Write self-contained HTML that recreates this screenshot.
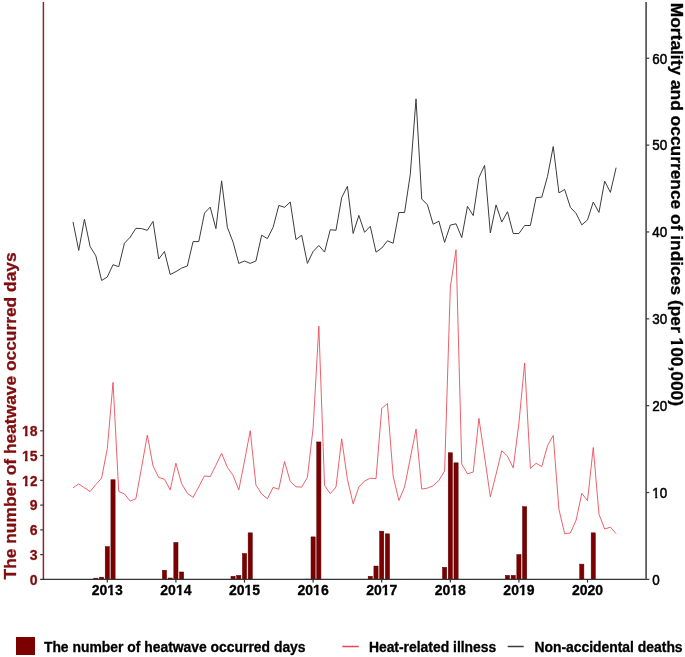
<!DOCTYPE html>
<html><head><meta charset="utf-8"><style>
html,body{margin:0;padding:0;background:#fff;width:685px;height:657px;overflow:hidden}
#w{will-change:transform}
svg text{font-family:"Liberation Sans", sans-serif;stroke-width:0.3;paint-order:stroke}
</style></head><body>
<div id="w"><svg width="685" height="657" viewBox="0 0 685 657" style="display:block">
<rect width="685" height="657" fill="#fff"/>
<rect x="93.77" y="578.16" width="4.20" height="1.24" fill="#7c0000" stroke="#5c0000" stroke-width="0.5"/>
<rect x="99.48" y="577.17" width="4.20" height="2.23" fill="#7c0000" stroke="#5c0000" stroke-width="0.5"/>
<rect x="105.20" y="546.63" width="4.20" height="32.77" fill="#7c0000" stroke="#5c0000" stroke-width="0.5"/>
<rect x="110.92" y="479.75" width="4.20" height="99.65" fill="#7c0000" stroke="#5c0000" stroke-width="0.5"/>
<rect x="162.37" y="570.24" width="4.20" height="9.16" fill="#7c0000" stroke="#5c0000" stroke-width="0.5"/>
<rect x="168.09" y="578.00" width="4.20" height="1.40" fill="#7c0000" stroke="#5c0000" stroke-width="0.5"/>
<rect x="173.81" y="542.50" width="4.20" height="36.90" fill="#7c0000" stroke="#5c0000" stroke-width="0.5"/>
<rect x="179.52" y="571.97" width="4.20" height="7.43" fill="#7c0000" stroke="#5c0000" stroke-width="0.5"/>
<rect x="230.98" y="576.27" width="4.20" height="3.13" fill="#7c0000" stroke="#5c0000" stroke-width="0.5"/>
<rect x="236.69" y="575.36" width="4.20" height="4.04" fill="#7c0000" stroke="#5c0000" stroke-width="0.5"/>
<rect x="242.41" y="553.56" width="4.20" height="25.84" fill="#7c0000" stroke="#5c0000" stroke-width="0.5"/>
<rect x="248.13" y="532.84" width="4.20" height="46.56" fill="#7c0000" stroke="#5c0000" stroke-width="0.5"/>
<rect x="305.30" y="579.15" width="4.20" height="0.25" fill="#7c0000" stroke="#5c0000" stroke-width="0.5"/>
<rect x="311.01" y="536.88" width="4.20" height="42.52" fill="#7c0000" stroke="#5c0000" stroke-width="0.5"/>
<rect x="316.73" y="441.94" width="4.20" height="137.46" fill="#7c0000" stroke="#5c0000" stroke-width="0.5"/>
<rect x="368.18" y="576.27" width="4.20" height="3.13" fill="#7c0000" stroke="#5c0000" stroke-width="0.5"/>
<rect x="373.90" y="566.03" width="4.20" height="13.37" fill="#7c0000" stroke="#5c0000" stroke-width="0.5"/>
<rect x="379.62" y="531.19" width="4.20" height="48.21" fill="#7c0000" stroke="#5c0000" stroke-width="0.5"/>
<rect x="385.33" y="533.83" width="4.20" height="45.57" fill="#7c0000" stroke="#5c0000" stroke-width="0.5"/>
<rect x="442.50" y="567.27" width="4.20" height="12.13" fill="#7c0000" stroke="#5c0000" stroke-width="0.5"/>
<rect x="448.22" y="452.76" width="4.20" height="126.64" fill="#7c0000" stroke="#5c0000" stroke-width="0.5"/>
<rect x="453.94" y="462.83" width="4.20" height="116.57" fill="#7c0000" stroke="#5c0000" stroke-width="0.5"/>
<rect x="505.39" y="575.36" width="4.20" height="4.04" fill="#7c0000" stroke="#5c0000" stroke-width="0.5"/>
<rect x="511.11" y="575.36" width="4.20" height="4.04" fill="#7c0000" stroke="#5c0000" stroke-width="0.5"/>
<rect x="516.83" y="554.55" width="4.20" height="24.85" fill="#7c0000" stroke="#5c0000" stroke-width="0.5"/>
<rect x="522.54" y="506.67" width="4.20" height="72.73" fill="#7c0000" stroke="#5c0000" stroke-width="0.5"/>
<rect x="579.71" y="564.13" width="4.20" height="15.27" fill="#7c0000" stroke="#5c0000" stroke-width="0.5"/>
<rect x="591.15" y="532.84" width="4.20" height="46.56" fill="#7c0000" stroke="#5c0000" stroke-width="0.5"/>
<polyline points="73.00,487.80 78.72,483.90 84.43,487.80 90.15,491.50 95.87,484.50 101.58,478.10 107.30,448.70 113.02,382.40 118.74,491.50 124.45,493.90 130.17,501.10 135.89,498.70 141.60,467.30 147.32,435.10 153.04,465.90 158.75,477.50 164.47,479.20 170.19,489.90 175.91,463.20 181.62,483.70 187.34,493.30 193.06,497.40 198.77,486.70 204.49,475.90 210.21,476.70 215.92,465.20 221.64,453.30 227.36,467.30 233.08,475.50 238.79,489.90 244.51,461.10 250.23,430.70 255.94,485.10 261.66,494.00 267.38,498.80 273.10,487.40 278.81,489.20 284.53,461.50 290.25,481.40 295.96,486.80 301.68,487.10 307.40,477.30 313.11,428.00 318.83,326.20 324.55,485.50 330.26,493.60 335.98,487.00 341.70,438.80 347.42,479.30 353.13,503.80 358.85,487.00 364.57,481.00 370.28,478.20 376.00,478.70 381.72,408.40 387.44,403.50 393.15,476.10 398.87,500.50 404.59,487.00 410.30,458.10 416.02,429.10 421.74,489.10 427.45,488.10 433.17,485.70 438.89,480.50 444.60,471.00 450.32,287.20 456.04,249.70 461.76,464.10 467.47,473.80 473.19,472.10 478.91,418.30 484.62,457.00 490.34,496.80 496.06,474.30 501.77,450.70 507.49,456.20 513.21,467.90 518.93,423.00 524.64,363.00 530.36,468.40 536.08,463.30 541.79,466.60 547.51,445.60 553.23,435.50 558.94,509.50 564.66,533.70 570.38,533.00 576.10,520.20 581.81,493.40 587.53,500.60 593.25,447.50 598.96,514.10 604.68,529.00 610.40,527.20 616.12,533.70" fill="none" stroke="#ea4450" stroke-width="0.85" stroke-linejoin="round"/>
<polyline points="73.00,221.90 78.72,250.40 84.43,219.20 90.15,246.60 95.87,255.90 101.58,280.50 107.30,277.00 113.02,264.70 118.74,266.70 124.45,243.20 130.17,237.20 135.89,228.30 141.60,228.60 147.32,230.30 153.04,221.40 158.75,259.00 164.47,251.50 170.19,274.50 175.91,271.60 181.62,268.10 187.34,266.00 193.06,241.60 198.77,241.60 204.49,213.10 210.21,207.10 215.92,228.70 221.64,180.80 227.36,227.30 233.08,242.20 238.79,263.40 244.51,261.00 250.23,263.40 255.94,261.00 261.66,235.20 267.38,238.60 273.10,227.30 278.81,205.50 284.53,207.30 290.25,202.00 295.96,239.60 301.68,235.20 307.40,263.40 313.11,251.50 318.83,245.50 324.55,252.10 330.26,229.70 335.98,230.30 341.70,197.60 347.42,186.30 353.13,233.50 358.85,215.40 364.57,232.30 370.28,226.30 376.00,252.10 381.72,248.10 387.44,240.80 393.15,243.20 398.87,212.50 404.59,212.50 410.30,174.20 416.02,98.90 421.74,199.00 427.45,204.80 433.17,224.20 438.89,221.20 444.60,242.40 450.32,225.10 456.04,223.80 461.76,237.60 467.47,206.30 473.19,215.60 478.91,177.60 484.62,165.30 490.34,233.00 496.06,204.90 501.77,222.00 507.49,211.70 513.21,233.50 518.93,233.50 524.64,225.50 530.36,225.50 536.08,197.60 541.79,197.20 547.51,176.40 553.23,146.50 558.94,192.90 564.66,189.50 570.38,207.30 576.10,213.40 581.81,224.90 587.53,219.90 593.25,202.00 598.96,212.40 604.68,181.10 610.40,192.40 616.12,167.70" fill="none" stroke="#3c3c3c" stroke-width="1.0" stroke-linejoin="round"/>
<line x1="43.4" y1="2" x2="43.4" y2="579.4" stroke="#8f252c" stroke-width="1.5"/>
<line x1="40.2" y1="579.4" x2="646.1" y2="579.4" stroke="#333" stroke-width="1.3"/>
<line x1="646.1" y1="2" x2="646.1" y2="580.05" stroke="#4a4a4a" stroke-width="1.6"/>
<line x1="40.2" y1="554.63" x2="43.4" y2="554.63" stroke="#3a3a3a" stroke-width="1.2"/>
<line x1="40.2" y1="529.86" x2="43.4" y2="529.86" stroke="#3a3a3a" stroke-width="1.2"/>
<line x1="40.2" y1="505.10" x2="43.4" y2="505.10" stroke="#3a3a3a" stroke-width="1.2"/>
<line x1="40.2" y1="480.33" x2="43.4" y2="480.33" stroke="#3a3a3a" stroke-width="1.2"/>
<line x1="40.2" y1="455.56" x2="43.4" y2="455.56" stroke="#3a3a3a" stroke-width="1.2"/>
<line x1="40.2" y1="430.79" x2="43.4" y2="430.79" stroke="#3a3a3a" stroke-width="1.2"/>
<line x1="646.1" y1="579.40" x2="649.3" y2="579.40" stroke="#3a3a3a" stroke-width="1.2"/>
<line x1="646.1" y1="492.54" x2="649.3" y2="492.54" stroke="#3a3a3a" stroke-width="1.2"/>
<line x1="646.1" y1="405.68" x2="649.3" y2="405.68" stroke="#3a3a3a" stroke-width="1.2"/>
<line x1="646.1" y1="318.82" x2="649.3" y2="318.82" stroke="#3a3a3a" stroke-width="1.2"/>
<line x1="646.1" y1="231.96" x2="649.3" y2="231.96" stroke="#3a3a3a" stroke-width="1.2"/>
<line x1="646.1" y1="145.10" x2="649.3" y2="145.10" stroke="#3a3a3a" stroke-width="1.2"/>
<line x1="646.1" y1="58.24" x2="649.3" y2="58.24" stroke="#3a3a3a" stroke-width="1.2"/>
<line x1="107.30" y1="579.4" x2="107.30" y2="582.6" stroke="#333" stroke-width="1.2"/>
<line x1="175.91" y1="579.4" x2="175.91" y2="582.6" stroke="#333" stroke-width="1.2"/>
<line x1="244.51" y1="579.4" x2="244.51" y2="582.6" stroke="#333" stroke-width="1.2"/>
<line x1="313.11" y1="579.4" x2="313.11" y2="582.6" stroke="#333" stroke-width="1.2"/>
<line x1="381.72" y1="579.4" x2="381.72" y2="582.6" stroke="#333" stroke-width="1.2"/>
<line x1="450.32" y1="579.4" x2="450.32" y2="582.6" stroke="#333" stroke-width="1.2"/>
<line x1="518.93" y1="579.4" x2="518.93" y2="582.6" stroke="#333" stroke-width="1.2"/>
<line x1="587.53" y1="579.4" x2="587.53" y2="582.6" stroke="#333" stroke-width="1.2"/>
<rect x="16" y="637" width="19" height="18" fill="#7c0000"/>
<line x1="342.3" y1="646.5" x2="358.7" y2="646.5" stroke="#ea4450" stroke-width="1.5"/>
<line x1="507.7" y1="646.5" x2="523.7" y2="646.5" stroke="#3c3c3c" stroke-width="1.5"/>
<text id="t0" x="37.60" y="584.70" text-anchor="end" font-weight="bold" font-size="14" fill="#800d0d" stroke="#800d0d">0</text>
<text id="t1" x="37.60" y="559.93" text-anchor="end" font-weight="bold" font-size="14" fill="#800d0d" stroke="#800d0d">3</text>
<text id="t2" x="37.60" y="535.16" text-anchor="end" font-weight="bold" font-size="14" fill="#800d0d" stroke="#800d0d">6</text>
<text id="t3" x="37.60" y="510.40" text-anchor="end" font-weight="bold" font-size="14" fill="#800d0d" stroke="#800d0d">9</text>
<text id="t4" x="37.60" y="485.63" text-anchor="end" font-weight="bold" font-size="14" fill="#800d0d" stroke="#800d0d">12</text><rect x="21.90" y="483.25" width="2.99" height="3.98" fill="#fff"/><rect x="27.61" y="483.25" width="2.81" height="3.98" fill="#fff"/>
<text id="t5" x="37.60" y="460.86" text-anchor="end" font-weight="bold" font-size="14" fill="#800d0d" stroke="#800d0d">15</text><rect x="21.90" y="458.48" width="2.99" height="3.98" fill="#fff"/><rect x="27.61" y="458.48" width="2.81" height="3.98" fill="#fff"/>
<text id="t6" x="37.60" y="436.09" text-anchor="end" font-weight="bold" font-size="14" fill="#800d0d" stroke="#800d0d">18</text><rect x="21.90" y="433.71" width="2.99" height="3.98" fill="#fff"/><rect x="27.61" y="433.71" width="2.81" height="3.98" fill="#fff"/>
<g transform="translate(652.3,584.70) scale(0.96,1.05)"><text id="t7" x="0.00" y="0.00" style="stroke-width:0.5" font-size="14" fill="#000" stroke="#000">0</text></g>
<g transform="translate(652.3,497.84) scale(0.96,1.05)"><text id="t8" x="0.00" y="0.00" style="stroke-width:0.5" font-size="14" fill="#000" stroke="#000">10</text><rect x="0.07" y="-2.00" width="2.95" height="3.60" fill="#fff"/><rect x="5.26" y="-2.00" width="2.84" height="3.60" fill="#fff"/></g>
<g transform="translate(652.3,410.98) scale(0.96,1.05)"><text id="t9" x="0.00" y="0.00" style="stroke-width:0.5" font-size="14" fill="#000" stroke="#000">20</text></g>
<g transform="translate(652.3,324.12) scale(0.96,1.05)"><text id="t10" x="0.00" y="0.00" style="stroke-width:0.5" font-size="14" fill="#000" stroke="#000">30</text></g>
<g transform="translate(652.3,237.26) scale(0.96,1.05)"><text id="t11" x="0.00" y="0.00" style="stroke-width:0.5" font-size="14" fill="#000" stroke="#000">40</text></g>
<g transform="translate(652.3,150.40) scale(0.96,1.05)"><text id="t12" x="0.00" y="0.00" style="stroke-width:0.5" font-size="14" fill="#000" stroke="#000">50</text></g>
<g transform="translate(652.3,63.54) scale(0.96,1.05)"><text id="t13" x="0.00" y="0.00" style="stroke-width:0.5" font-size="14" fill="#000" stroke="#000">60</text></g>
<text id="t14" x="107.30" y="595.20" text-anchor="middle" font-weight="bold" font-size="14" fill="#000" stroke="#000">2013</text><rect x="107.17" y="592.82" width="2.99" height="3.98" fill="#fff"/><rect x="112.87" y="592.82" width="2.81" height="3.98" fill="#fff"/>
<text id="t15" x="175.91" y="595.20" text-anchor="middle" font-weight="bold" font-size="14" fill="#000" stroke="#000">2014</text><rect x="175.78" y="592.82" width="2.99" height="3.98" fill="#fff"/><rect x="181.48" y="592.82" width="2.81" height="3.98" fill="#fff"/>
<text id="t16" x="244.51" y="595.20" text-anchor="middle" font-weight="bold" font-size="14" fill="#000" stroke="#000">2015</text><rect x="244.38" y="592.82" width="2.99" height="3.98" fill="#fff"/><rect x="250.08" y="592.82" width="2.81" height="3.98" fill="#fff"/>
<text id="t17" x="313.11" y="595.20" text-anchor="middle" font-weight="bold" font-size="14" fill="#000" stroke="#000">2016</text><rect x="312.98" y="592.82" width="2.99" height="3.98" fill="#fff"/><rect x="318.68" y="592.82" width="2.81" height="3.98" fill="#fff"/>
<text id="t18" x="381.72" y="595.20" text-anchor="middle" font-weight="bold" font-size="14" fill="#000" stroke="#000">2017</text><rect x="381.59" y="592.82" width="2.99" height="3.98" fill="#fff"/><rect x="387.29" y="592.82" width="2.81" height="3.98" fill="#fff"/>
<text id="t19" x="450.32" y="595.20" text-anchor="middle" font-weight="bold" font-size="14" fill="#000" stroke="#000">2018</text><rect x="450.19" y="592.82" width="2.99" height="3.98" fill="#fff"/><rect x="455.89" y="592.82" width="2.81" height="3.98" fill="#fff"/>
<text id="t20" x="518.93" y="595.20" text-anchor="middle" font-weight="bold" font-size="14" fill="#000" stroke="#000">2019</text><rect x="518.80" y="592.82" width="2.99" height="3.98" fill="#fff"/><rect x="524.50" y="592.82" width="2.81" height="3.98" fill="#fff"/>
<text id="t21" x="587.53" y="595.20" text-anchor="middle" font-weight="bold" font-size="14" fill="#000" stroke="#000">2020</text>
<g transform="translate(16,415.9) rotate(-90)"><text id="t22" x="0.00" y="0.00" text-anchor="middle" font-weight="bold" font-size="17.37" fill="#800d0d" stroke="#800d0d">The number of heatwave occurred days</text></g>
<g transform="translate(670.6,204.4) rotate(90)"><text id="t23" x="0.00" y="0.00" text-anchor="middle" font-weight="bold" font-size="17.37" fill="#000" stroke="#000">Mortality and occurrence of indices (per 100,000)</text><rect x="133.18" y="-2.72" width="3.56" height="4.32" fill="#fff"/><rect x="139.92" y="-2.72" width="3.34" height="4.32" fill="#fff"/></g>
<text id="t24" x="43.90" y="651.70" font-weight="bold" font-size="13.9" fill="#000" stroke="#000">The number of heatwave occurred days</text>
<text id="t25" x="368.90" y="651.70" font-weight="bold" font-size="13.9" fill="#000" stroke="#000">Heat-related illness</text>
<text id="t26" x="534.40" y="651.70" font-weight="bold" font-size="13.9" fill="#000" stroke="#000">Non-accidental deaths</text>
</svg></div>
</body></html>
